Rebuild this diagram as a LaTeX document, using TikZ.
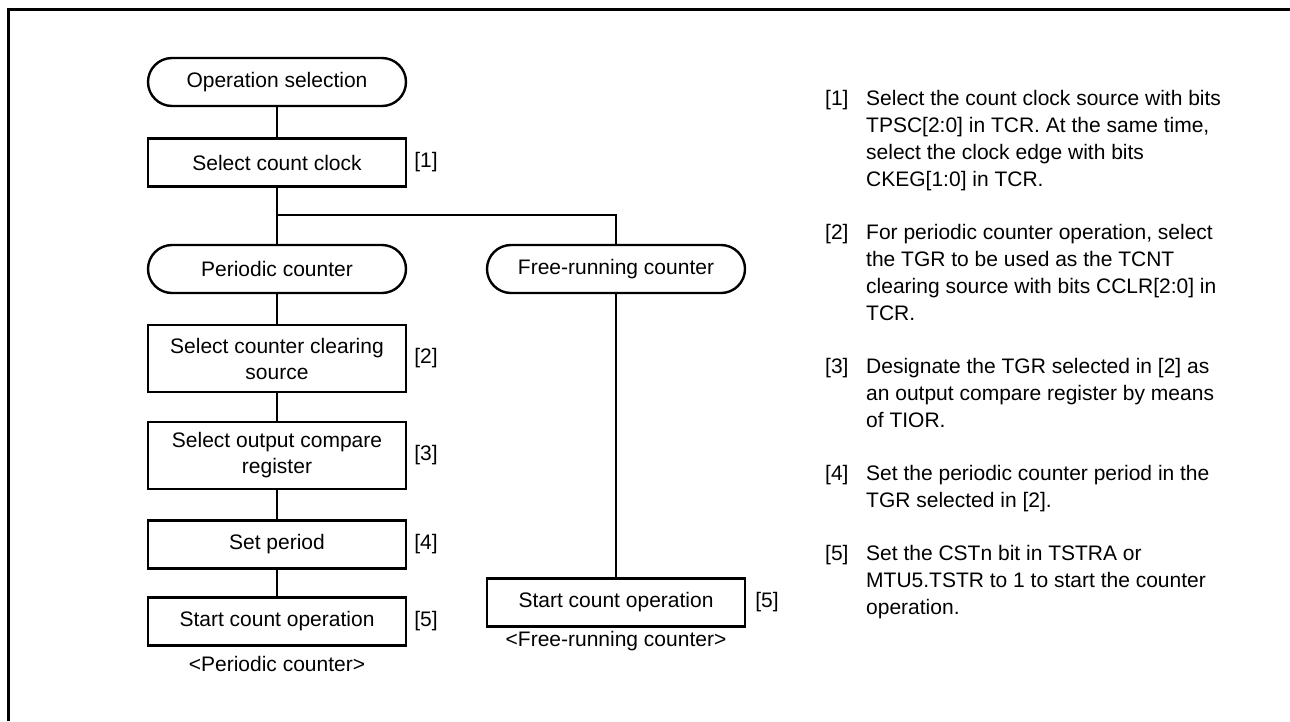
\documentclass[tikz,border=0pt]{standalone}
\usepackage{fontspec}
\setmainfont{Liberation Sans}
\usetikzlibrary{positioning}
\tikzset{
  txt/.style={font=\fontsize{21}{26}\selectfont,inner sep=0pt},
  stepbox/.style={txt,draw=black,line width=2.4pt,minimum width=258pt,minimum height=48pt,align=center},
  tallbox/.style={stepbox,minimum height=67pt},
  termbox/.style={stepbox,rounded corners=24pt},
  tag/.style={txt,anchor=west},
  link/.style={draw=black,line width=1.3pt},
  note/.style={font=\fontsize{21}{26.7}\selectfont,inner sep=0pt,anchor=north west,align=left},
  frameline/.style={draw=black,line width=3pt}
}
\begin{document}
\begin{tikzpicture}[x=1pt,y=-1pt]
  \useasboundingbox (0,0) rectangle (1290,721);
  \draw[frameline] (8.5,721) -- (8.5,9.5) -- (1290,9.5);
  % left column
  \node[termbox] (opsel) at (277,82) {Operation selection};
  \node[stepbox] (selclk) at (277,162.5) {Select count clock};
  \coordinate (brk) at (277,215);
  \node[termbox] (percnt) at (277,269) {Periodic counter};
  \node[tallbox] (clrsrc) at (277,358.5) {Select counter clearing\\source};
  \node[tallbox] (outcmp) at (277,455.5) {Select output compare\\register};
  \node[stepbox] (setper) at (277,544.5) {Set period};
  \node[stepbox] (startp) at (277,621.5) {Start count operation};
  \node[txt] (capp) at (277,664) {<Periodic counter>};
  % right column
  \node[termbox] (frcnt) at (616,269) {Free-running counter};
  \node[stepbox] (startf) at (616,602.5) {Start count operation};
  \node[txt] (capf) at (616,641) {<Free-running counter>};
  % tags
  \node[tag] (t1) at ([xshift=7pt]selclk.east) {[1]};
  \node[tag] (t2) at ([xshift=7pt]clrsrc.east) {[2]};
  \node[tag] (t3) at ([xshift=7pt]outcmp.east) {[3]};
  \node[tag] (t4) at ([xshift=7pt]setper.east) {[4]};
  \node[tag] (t5) at ([xshift=7pt]startp.east) {[5]};
  \node[tag] (t5f) at ([xshift=9pt]startf.east) {[5]};
  % connectors
  \draw[link] (opsel) -- (selclk);
  \draw[link] (selclk) -- (percnt);
  \draw[link] (brk) -| (frcnt.north);
  \draw[link] (percnt) -- (clrsrc);
  \draw[link] (clrsrc) -- (outcmp);
  \draw[link] (outcmp) -- (setper);
  \draw[link] (setper) -- (startp);
  \draw[link] (frcnt) -- (startf);
  % notes
  \node[note] (n1k) at (825,90.5) {[1]};
  \node[note] (n1) at (866,90.5) {Select the count clock source with bits\\TPSC[2:0] in TCR. At the same time,\\select the clock edge with bits\\CKEG[1:0] in TCR.};
  \node[note] (n2k) at (825,224.5) {[2]};
  \node[note] (n2) at (866,224.5) {For periodic counter operation, select\\the TGR to be used as the TCNT\\clearing source with bits CCLR[2:0] in\\TCR.};
  \node[note] (n3k) at (825,358.5) {[3]};
  \node[note] (n3) at (866,358.5) {Designate the TGR selected in [2] as\\an output compare register by means\\of TIOR.};
  \node[note] (n4k) at (825,465.5) {[4]};
  \node[note] (n4) at (866,465.5) {Set the periodic counter period in the\\TGR selected in [2].};
  \node[note] (n5k) at (825,545.5) {[5]};
  \node[note] (n5) at (866,545.5) {Set the CSTn bit in TSTRA or\\MTU5.TSTR to 1 to start the counter\\operation.};
\end{tikzpicture}
\end{document}
